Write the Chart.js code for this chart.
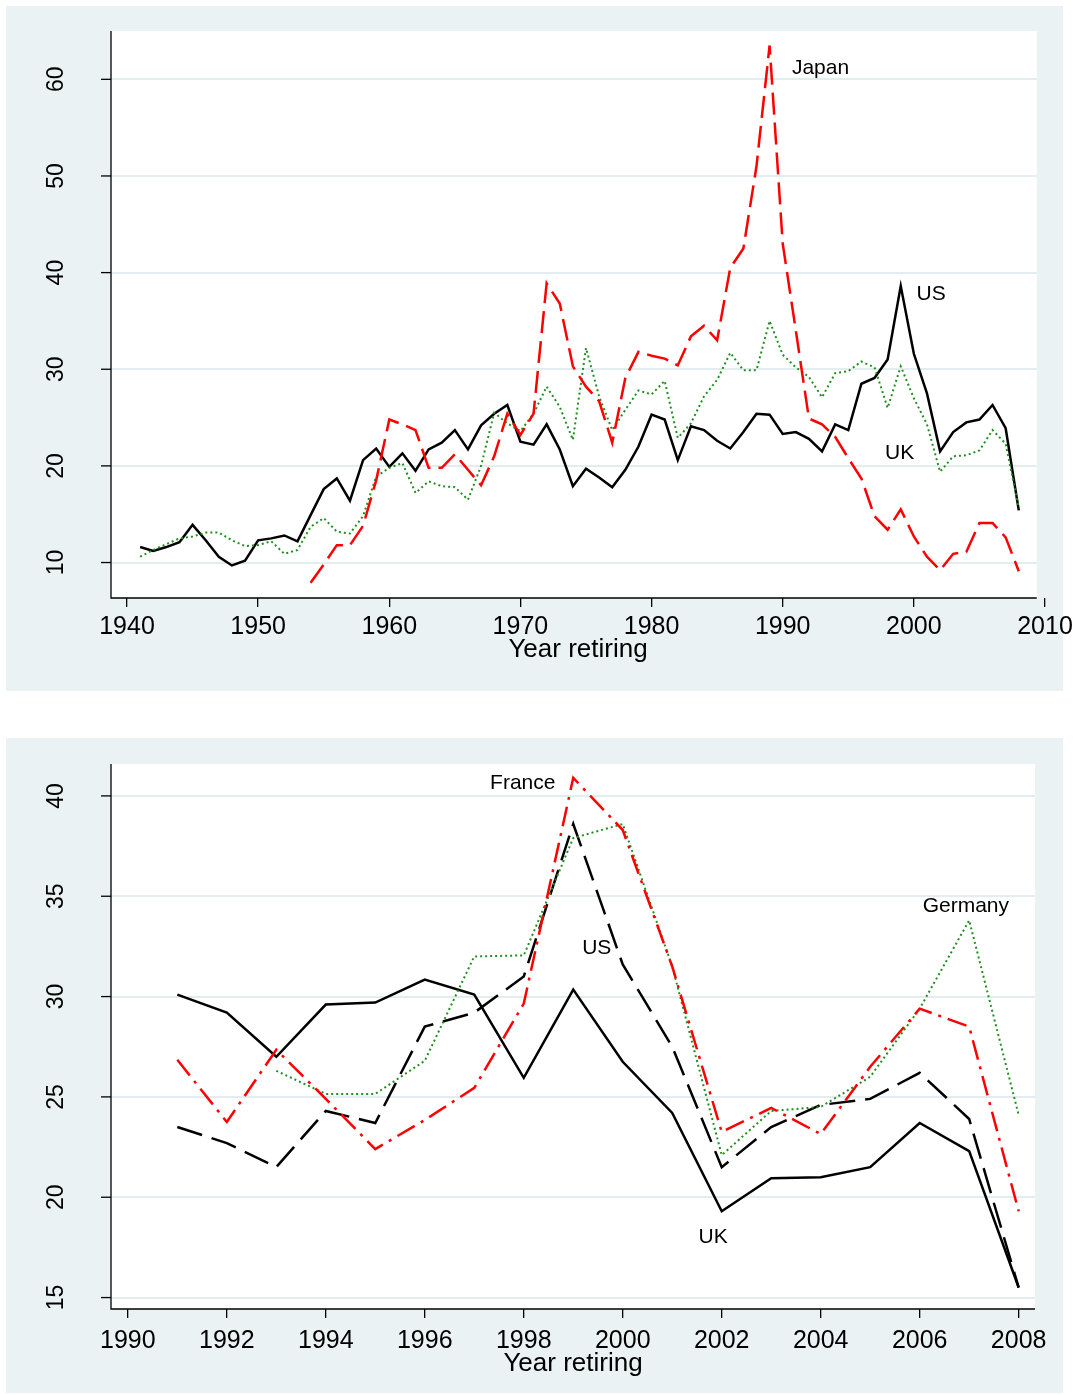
<!DOCTYPE html>
<html><head><meta charset="utf-8">
<script src="https://cdn.jsdelivr.net/npm/chart.js@4.4.1/dist/chart.umd.min.js"></script>
<style>
html,body{margin:0;padding:0;background:#fff;}
#w1{position:absolute;left:0;top:0;width:1079px;height:715px;}
#w2{position:absolute;left:0;top:715px;width:1079px;height:680px;}
</style></head><body>
<div id="w1"><canvas id="c1"></canvas></div>
<div id="w2"><canvas id="c2"></canvas></div>
<script>
// ---------- Top panel data ----------
const topYears = [1941,1942,1943,1944,1945,1946,1947,1948,1949,1950,1951,1952,1953,1954,1955,1956,1957,1958,1959,1960,
  1961,1962,1963,1964,1965,1966,1967,1968,1969,1970,1971,1972,1973,1974,1975,1976,1977,1978,1979,1980,
  1981,1982,1983,1984,1985,1986,1987,1988,1989,1990,1991,1992,1993,1994,1995,1996,1997,1998,1999,2000,
  2001,2002,2003,2004,2005,2006,2007,2008];
const topUS = [11.6,11.2,11.6,12.1,13.9,12.3,10.6,9.7,10.2,12.3,12.5,12.8,12.2,14.9,17.6,18.7,16.4,20.6,21.8,19.9,
  21.3,19.5,21.7,22.4,23.7,21.7,24.2,25.4,26.3,22.5,22.2,24.3,21.7,17.9,19.7,18.8,17.8,19.6,22.0,25.3,
  24.8,20.6,24.1,23.7,22.6,21.8,23.5,25.4,25.3,23.3,23.5,22.8,21.5,24.3,23.7,28.5,29.1,31.0,38.6,31.6,
  27.5,21.5,23.5,24.5,24.8,26.3,23.9,15.4];
const topUK = [10.6,11.3,11.9,12.5,12.7,13.1,13.1,12.3,11.7,11.8,12.2,10.9,11.3,13.7,14.6,13.2,13.0,14.8,18.9,19.8,
  20.3,17.2,18.4,17.9,17.8,16.5,20.0,25.5,24.4,23.6,25.4,28.2,26.1,22.7,32.2,27.2,23.7,25.8,27.8,27.4,
  28.8,22.9,24.4,27.2,28.9,31.7,29.9,29.9,35.0,31.5,30.2,29.2,27.1,29.6,29.8,30.8,30.2,26.0,30.3,27.0,
  24.3,19.4,21.0,21.1,21.6,23.7,22.3,15.6];
const topJapan = [null,null,null,null,null,null,null,null,null,null,null,null,null,7.9,9.8,11.8,11.8,13.8,18.5,24.8,
  24.3,23.7,19.8,19.8,21.2,19.6,18.0,21.0,25.4,23.2,25.4,38.9,36.8,30.3,28.2,26.7,22.4,29.1,31.8,31.4,
  31.1,30.4,33.4,34.5,33.0,40.5,42.5,51.0,63.5,43.0,34.0,24.9,24.3,23.0,20.8,18.7,14.8,13.4,15.5,12.7,
  10.6,9.2,10.9,11.1,14.1,14.1,12.6,9.1];
const topLabelText = ['Japan','US','UK'];
const topLabelX = [1990.7, 2000.2, 1997.8];
const topLabelY = [61.2, 37.8, 21.3];

// ---------- Bottom panel data ----------
const botYears = [1991,1992,1993,1994,1995,1996,1997,1998,1999,2000,2001,2002,2003,2004,2005,2006,2007,2008];
const botUS = [23.5,22.7,21.5,24.3,23.7,28.5,29.2,31.0,38.6,31.6,27.5,21.5,23.5,24.6,24.9,26.2,23.9,15.5];
const botUK = [30.1,29.2,27.0,29.6,29.7,30.85,30.1,25.95,30.35,26.75,24.2,19.3,20.95,21.0,21.5,23.7,22.3,15.5];
const botFrance = [26.85,23.75,27.35,24.9,22.4,23.85,25.45,29.65,40.9,38.3,31.5,23.25,24.45,23.15,26.5,29.4,28.5,19.3];
const botGermany = [null,null,26.3,25.15,25.15,26.8,32.0,32.05,37.9,38.6,31.5,22.1,24.3,24.5,26.0,29.4,33.8,24.1];
const botLabelText = ['France','US','Germany','UK'];
const botLabelX = [1997.32, 1999.18, 2006.06, 2001.53];
const botLabelY = [40.64, 32.41, 34.51, 18.0];

// ---------- helpers ----------
const FONT = "'Liberation Sans', Arial, sans-serif";
const PANEL_BG = '#eaf2f3';
const GRID = '#e3ecee';
const RED = '#ff0000', GREEN = '#1f8f1f', BLACK = '#000000';

function pts(xs, ys) {
  const out = [];
  for (let i = 0; i < xs.length; i++) if (ys[i] !== null) out.push({x: xs[i], y: ys[i]});
  return out;
}

function ds(label, xs, ys, color, dash, width) {
  return {label, data: pts(xs, ys), borderColor: color, borderWidth: width, borderDash: dash,
    pointRadius: 0, tension: 0, fill: false, borderJoinStyle: 'miter', borderCapStyle: 'butt'};
}

function makePlugin(cfg) {
  return {
    id: 'stataLook',
    beforeDraw(chart) {
      const ctx = chart.ctx, a = chart.chartArea;
      const xs = chart.scales.x, ys = chart.scales.y;
      ctx.save();
      ctx.fillStyle = '#ffffff';
      ctx.fillRect(0, 0, chart.width, chart.height);
      ctx.fillStyle = PANEL_BG;
      ctx.fillRect(cfg.panel[0], cfg.panel[1], cfg.panel[2], cfg.panel[3]);
      const wr = xs.getPixelForValue(cfg.plotXEnd);
      ctx.fillStyle = '#ffffff';
      ctx.fillRect(a.left, a.top, wr - a.left, a.bottom - a.top);
      ctx.strokeStyle = GRID;
      ctx.lineWidth = 2;
      ys.ticks.forEach(t => {
        const py = Math.round(ys.getPixelForValue(t.value));
        ctx.beginPath(); ctx.moveTo(a.left, py); ctx.lineTo(wr, py); ctx.stroke();
      });
      ctx.restore();
    },
    afterDraw(chart) {
      const ctx = chart.ctx, a = chart.chartArea;
      const xs = chart.scales.x, ys = chart.scales.y;
      const wr = xs.getPixelForValue(cfg.plotXEnd);
      ctx.save();
      ctx.strokeStyle = '#000'; ctx.lineWidth = 1.3;
      ctx.beginPath(); ctx.moveTo(a.left, a.top); ctx.lineTo(a.left, a.bottom); ctx.lineTo(wr, a.bottom); ctx.stroke();
      ctx.font = '23px ' + FONT;
      ctx.fillStyle = '#000';
      ctx.textAlign = 'center'; ctx.textBaseline = 'middle';
      ys.ticks.forEach(t => {
        const py = ys.getPixelForValue(t.value);
        ctx.beginPath(); ctx.moveTo(a.left - 10, py); ctx.lineTo(a.left, py); ctx.stroke();
        ctx.save();
        ctx.translate(cfg.yLabelX, py);
        ctx.rotate(-Math.PI / 2);
        ctx.fillText(String(t.value), 0, 0);
        ctx.restore();
      });
      ctx.font = '21px ' + FONT;
      ctx.textAlign = 'left'; ctx.textBaseline = 'middle';
      cfg.labels.text.forEach((s, i) => {
        ctx.fillText(s, xs.getPixelForValue(cfg.labels.x[i]), ys.getPixelForValue(cfg.labels.y[i]));
      });
      ctx.restore();
    }
  };
}

function makeChart(id, datasets, o) {
  return new Chart(document.getElementById(id), {
    type: 'line',
    data: {datasets},
    options: {
      responsive: true, maintainAspectRatio: false, animation: false,
      layout: {padding: {left: 0, top: o.padTop, right: o.padRight, bottom: 0}},
      plugins: {legend: {display: false}, tooltip: {enabled: false}},
      scales: {
        x: {
          type: 'linear', min: o.xMin, max: o.xMax,
          afterFit: s => { s.height = o.xAxisH; },
          grid: {display: true, drawOnChartArea: false, drawTicks: true, tickLength: 9, color: '#000', lineWidth: 1.3},
          border: {display: false},
          ticks: {stepSize: o.xStep, includeBounds: false, autoSkip: false, maxRotation: 0, minRotation: 0,
            color: '#000', font: {family: FONT, size: 25}, padding: o.tickPad,
            callback: v => String(v)},
          title: {display: true, text: 'Year retiring', color: '#000', font: {family: FONT, size: 26},
            padding: {top: 0, bottom: o.titlePadB}}
        },
        y: {
          type: 'linear', min: o.yMin, max: o.yMax,
          afterFit: s => { s.width = 111; },
          grid: {display: false},
          border: {display: false},
          ticks: {display: false, stepSize: o.yStep, includeBounds: false}
        }
      }
    },
    plugins: [makePlugin(o.plugin)]
  });
}

makeChart('c1', [
  ds('Japan', topYears, topJapan, RED, [22, 8], 2.5),
  ds('UK', topYears, topUK, GREEN, [2, 3], 2),
  ds('US', topYears, topUS, BLACK, [], 2.5)
], {
  padTop: 31, padRight: 34, xMin: 1938.78, xMax: 2010, xStep: 10, yMin: 6.33, yMax: 65.0, yStep: 10,
  xAxisH: 117, titlePadB: 50, tickPad: 5,
  plugin: {panel: [6, 6, 1057, 685], plotXEnd: 2009.37, yLabelX: 57,
    labels: {text: topLabelText, x: topLabelX, y: topLabelY}}
});

makeChart('c2', [
  ds('France', botYears, botFrance, RED, [20, 7, 3, 7], 2.5),
  ds('Germany', botYears, botGermany, GREEN, [2, 3], 2),
  ds('US', botYears, botUS, BLACK, [26, 10], 2.5),
  ds('UK', botYears, botUK, BLACK, [], 2.5)
], {
  padTop: 49, padRight: 44, xMin: 1989.66, xMax: 2008.33, xStep: 2, yMin: 14.43, yMax: 41.59, yStep: 5,
  xAxisH: 86, titlePadB: 16, tickPad: 8,
  plugin: {panel: [6, 23, 1057, 655], plotXEnd: 2008.33, yLabelX: 57,
    labels: {text: botLabelText, x: botLabelX, y: botLabelY}}
});
</script>
</body></html>
